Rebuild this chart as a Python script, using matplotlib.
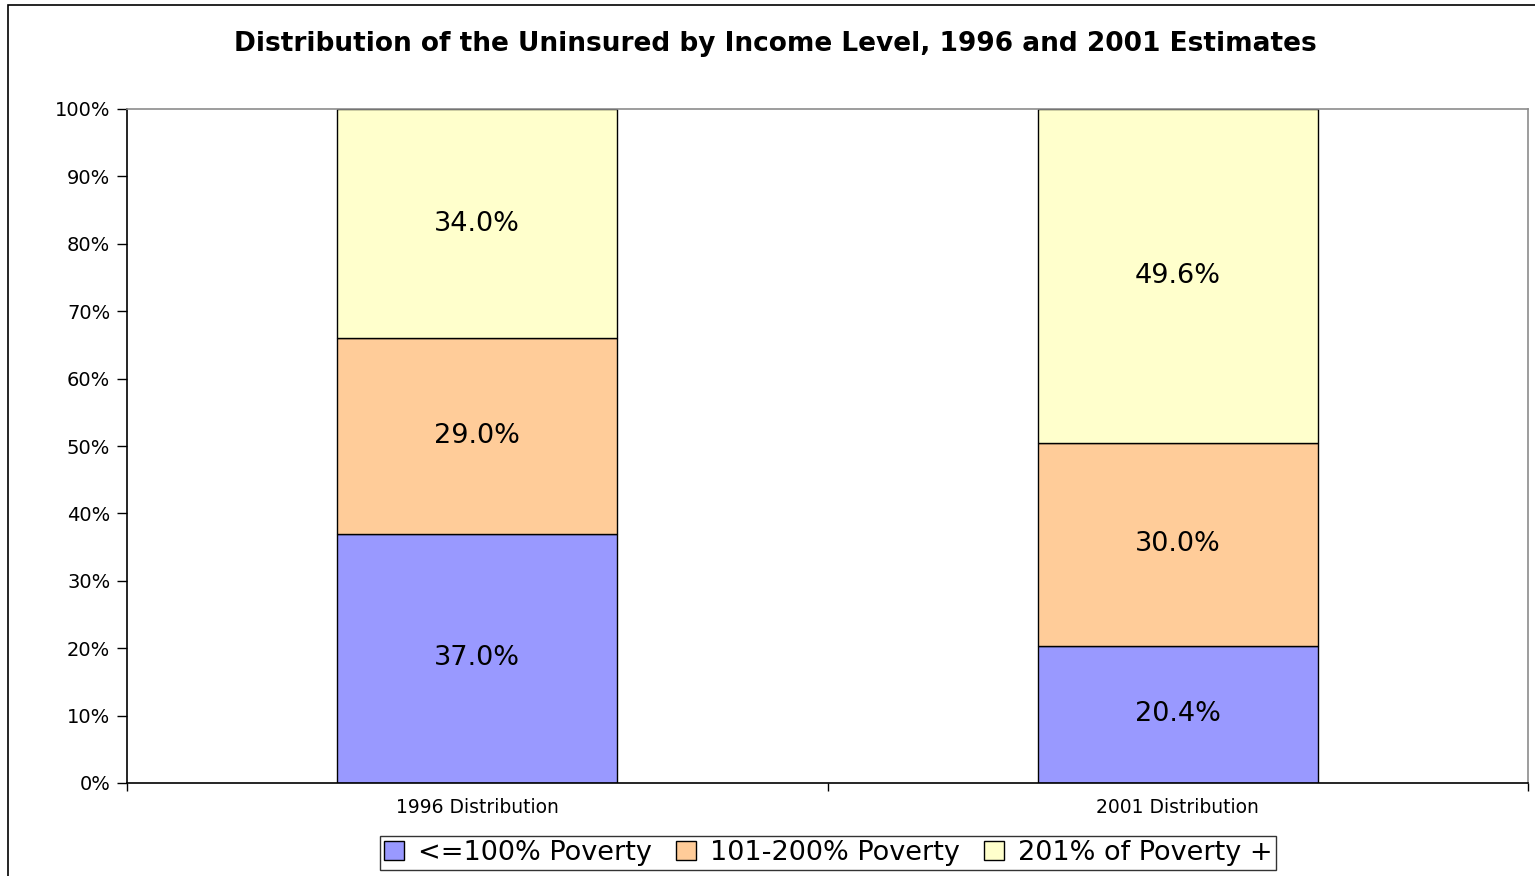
import matplotlib
matplotlib.use("Agg")
import matplotlib.pyplot as plt
from matplotlib.patches import Rectangle
from matplotlib.ticker import FixedLocator, PercentFormatter
import numpy as np

# Data
categories = ["1996 Distribution", "2001 Distribution"]
series_names = ["<=100% Poverty", "101-200% Poverty", "201% of Poverty +"]
below_100 = [37.0, 20.4]
pct_101_200 = [29.0, 30.0]
above_201 = [34.0, 49.6]
colors = ["#9999FF", "#FFCC99", "#FFFFCC"]

plt.rcParams["font.family"] = ["DejaVu Sans"]

fig = plt.figure(figsize=(15.35, 8.76), dpi=100)
ax = fig.add_axes([127 / 1535, 93 / 876, 1401 / 1535, 674 / 876])

# Outer chart border (right and bottom fall off the picture)
fig.patches.append(Rectangle((8 / 1535, -0.1), 1.2, 1.1 - 5 / 876,
                             transform=fig.transFigure, fill=False,
                             edgecolor="black", linewidth=1.2, clip_on=False))

x = np.arange(len(categories))
bottom = np.zeros(len(categories))
for name, vals, col in zip(series_names, [below_100, pct_101_200, above_201], colors):
    vals = np.array(vals)
    bars = ax.bar(x, vals, 0.4, bottom=bottom, color=col, edgecolor="black",
                  linewidth=1.0, label=name)
    for b, v, b0 in zip(bars, vals, bottom):
        ax.text(b.get_x() + b.get_width() / 2, b0 + v / 2, f"{v:.1f}%",
                ha="center", va="center", fontsize=19.5)
    bottom += vals

ax.set_xlim(-0.5, 1.5)
ax.set_ylim(0, 100)

# Axis styling
ax.spines["left"].set_color("black")
ax.spines["bottom"].set_color("black")
ax.spines["top"].set_color("#8c8c8c")
ax.spines["right"].set_color("#8c8c8c")
for s in ax.spines.values():
    s.set_linewidth(1.2)

ax.yaxis.set_major_locator(FixedLocator(np.arange(0, 101, 10)))
ax.yaxis.set_major_formatter(PercentFormatter(decimals=0))
ax.tick_params(axis="y", direction="out", length=7, width=1.0, labelsize=14, pad=5)

ax.set_xticks(x)
ax.set_xticklabels(categories, fontsize=13.5)
ax.tick_params(axis="x", which="major", length=0, pad=11)
ax.xaxis.set_minor_locator(FixedLocator([-0.5, 0.5, 1.5]))
ax.tick_params(axis="x", which="minor", direction="out", length=6, width=1.0)

fig.suptitle("Distribution of the Uninsured by Income Level, 1996 and 2001 Estimates",
             x=775 / 1535, y=1 - 44 / 876, va="center", fontsize=19, fontweight="bold")

leg = fig.legend(loc="center", bbox_to_anchor=(828 / 1535, 1 - 853 / 876), ncol=3,
                 fontsize=19.5, frameon=True, fancybox=False, handlelength=0.75,
                 handleheight=0.75, handletextpad=0.5, columnspacing=0.9,
                 borderpad=0.15, borderaxespad=0)
leg.get_frame().set_edgecolor("black")
leg.get_frame().set_linewidth(1.0)

fig.savefig("out.png", dpi=100)
